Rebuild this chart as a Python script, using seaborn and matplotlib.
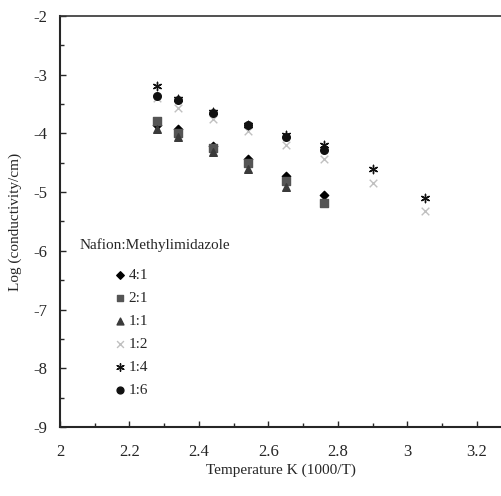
import matplotlib
matplotlib.use("Agg")
import matplotlib.pyplot as plt
import seaborn as sns
import pandas as pd

# 1000/T values (K^-1) and log conductivity for each Nafion:Methylimidazole ratio
x_all = [2.28, 2.34, 2.44, 2.54, 2.65, 2.76, 2.90, 3.05]

ratios = ["4:1", "2:1", "1:1", "1:2", "1:4", "1:6"]
y_4_1 = [-3.86, -3.93, -4.22, -4.43, -4.72, -5.05]
y_2_1 = [-3.79, -4.00, -4.25, -4.50, -4.81, -5.19]
y_1_1 = [-3.93, -4.07, -4.32, -4.61, -4.92]
y_1_2 = [-3.40, -3.56, -3.76, -3.96, -4.19, -4.44, -4.85, -5.33]
y_1_4 = [-3.20, -3.42, -3.64, -3.85, -4.03, -4.19, -4.60, -5.10]
y_1_6 = [-3.36, -3.44, -3.65, -3.86, -4.07, -4.28]

series = [y_4_1, y_2_1, y_1_1, y_1_2, y_1_4, y_1_6]
markers = ["D", "s", "^", "x", (6, 2, 0), "o"]
colors = ["#000000", "#555555", "#3a3a3a", "#c0c0c0", "#111111", "#111111"]
sizes = [18, 30, 30, 30, 36, 30]

sns.set_style("ticks")
plt.rcParams["font.family"] = ["Liberation Serif", "DejaVu Serif"]
plt.rcParams["axes.unicode_minus"] = False

fig = plt.figure(figsize=(5.01, 4.96), dpi=100)
ax = fig.add_axes([0.1198, 0.139, 0.8802, 0.829])

for name, ys, m, c, s in zip(ratios, series, markers, colors, sizes):
    df = pd.DataFrame({"x": x_all[:len(ys)], "y": ys})
    sns.scatterplot(data=df, x="x", y="y", marker=m, color=c, s=s,
                    edgecolor=c if m not in ("x", (6, 2, 0)) else None,
                    linewidth=1.0, label=name, ax=ax)

ax.set_xlim(2, 3.27)
ax.set_ylim(-9, -2)
ax.set_xticks([2, 2.2, 2.4, 2.6, 2.8, 3, 3.2])
ax.set_xticklabels(["2", "2.2", "2.4", "2.6", "2.8", "3", "3.2"])
ax.set_xticks([2.1, 2.3, 2.5, 2.7, 2.9, 3.1], minor=True)
ax.set_yticks(range(-9, -1))
ax.set_yticks([-8.5, -7.5, -6.5, -5.5, -4.5, -3.5, -2.5], minor=True)
ax.tick_params(axis="both", which="major", direction="in", length=4, width=1,
               labelsize=12, pad=12)
ax.tick_params(axis="both", which="minor", direction="in", length=3, width=1)
ax.tick_params(axis="y", pad=9)

ax.spines["right"].set_visible(False)
for sp in ["left", "bottom", "top"]:
    ax.spines[sp].set_linewidth(1.5)
ax.spines["top"].set_linewidth(1.2)
ax.spines["top"].set_color("#333333")

ax.set_xlabel("Temperature K (1000/T)", fontsize=11, labelpad=3)
ax.set_ylabel("Log (conductivity/cm)", fontsize=11, labelpad=8)

ax.text(0.045, 0.443, "Nafion:Methylimidazole", transform=ax.transAxes,
        fontsize=11, va="center", ha="left")
ax.legend(loc="upper left", bbox_to_anchor=(0.118, 0.385), frameon=False,
          fontsize=11, handlelength=1.0, handletextpad=0.1, labelspacing=0.6,
          markerscale=0.9, borderaxespad=0, borderpad=0)

fig.savefig("out.png", dpi=100)
